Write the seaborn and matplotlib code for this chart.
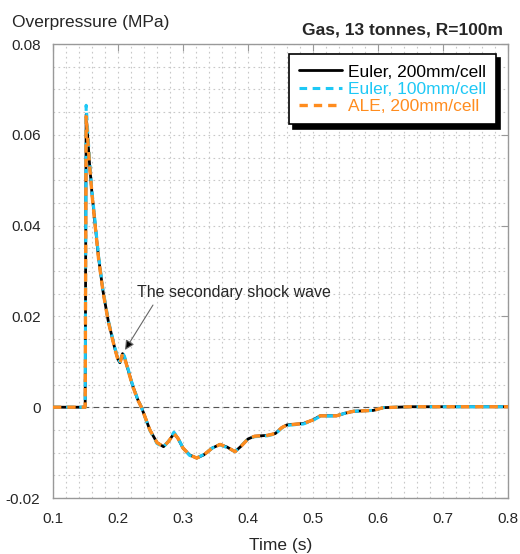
import numpy as np
import pandas as pd
import matplotlib
matplotlib.use("Agg")
import matplotlib.pyplot as plt
from matplotlib.ticker import MultipleLocator, FixedLocator
import seaborn as sns

# ---- data ----
t_euler200 = [0.100, 0.1495, 0.151, 0.156, 0.160, 0.165, 0.170, 0.177, 0.185, 0.195, 0.200, 0.203,
              0.207, 0.210, 0.215, 0.222, 0.230, 0.236, 0.249, 0.260, 0.270, 0.278, 0.286, 0.292,
              0.300, 0.310, 0.321, 0.332, 0.345, 0.357, 0.368, 0.380, 0.390, 0.400, 0.410, 0.430,
              0.442, 0.452, 0.460, 0.485, 0.500, 0.511, 0.536, 0.550, 0.562, 0.593, 0.608, 0.650,
              0.700, 0.800]
v_euler200 = [0.0, 0.0, 0.0645, 0.054, 0.047, 0.040, 0.033, 0.0255, 0.019, 0.013, 0.0105, 0.0098,
              0.0118, 0.0110, 0.0085, 0.0050, 0.0018, 0.0, -0.0050, -0.0078, -0.0087, -0.0075, -0.0058, -0.0068,
              -0.0090, -0.0105, -0.0112, -0.0105, -0.0090, -0.0082, -0.0088, -0.0098, -0.0085, -0.0070, -0.0064, -0.0062,
              -0.0058, -0.0045, -0.0039, -0.0036, -0.0028, -0.0019, -0.0019, -0.0013, -0.0009, -0.0007, -0.0001, 0.0001,
              0.0001, 0.0001]

t_euler100 = [0.100, 0.1495, 0.151, 0.156, 0.160, 0.165, 0.170, 0.177, 0.185, 0.195, 0.200, 0.203,
              0.207, 0.210, 0.215, 0.222, 0.230, 0.236, 0.249, 0.260, 0.270, 0.278, 0.286, 0.292,
              0.300, 0.310, 0.321, 0.332, 0.345, 0.357, 0.368, 0.380, 0.390, 0.400, 0.410, 0.430,
              0.442, 0.452, 0.460, 0.485, 0.500, 0.511, 0.536, 0.550, 0.562, 0.593, 0.608, 0.650,
              0.700, 0.800]
v_euler100 = [0.0, 0.0, 0.0665, 0.0548, 0.0475, 0.0405, 0.0335, 0.0258, 0.0192, 0.0132, 0.0107, 0.0100,
              0.0120, 0.0112, 0.0087, 0.0051, 0.0019, 0.0, -0.0051, -0.0080, -0.0088, -0.0074, -0.0055, -0.0067,
              -0.0090, -0.0106, -0.0112, -0.0104, -0.0090, -0.0083, -0.0089, -0.0098, -0.0084, -0.0070, -0.0065, -0.0063,
              -0.0059, -0.0046, -0.0040, -0.0037, -0.0029, -0.0020, -0.0019, -0.0013, -0.0009, -0.0007, -0.0001, 0.0001,
              0.0001, 0.0001]

t_ale200 = [0.100, 0.1495, 0.151, 0.156, 0.160, 0.165, 0.170, 0.177, 0.185, 0.195, 0.200, 0.203,
            0.207, 0.210, 0.215, 0.222, 0.230, 0.236, 0.249, 0.260, 0.270, 0.278, 0.286, 0.292,
            0.300, 0.310, 0.321, 0.332, 0.345, 0.357, 0.368, 0.380, 0.390, 0.400, 0.410, 0.430,
            0.442, 0.452, 0.460, 0.485, 0.500, 0.511, 0.536, 0.550, 0.562, 0.593, 0.608, 0.650,
            0.700, 0.800]
v_ale200 = [0.0, 0.0, 0.0640, 0.0538, 0.0468, 0.0398, 0.0328, 0.0254, 0.0189, 0.0129, 0.0104, 0.0097,
            0.0117, 0.0109, 0.0084, 0.0049, 0.0017, 0.0, -0.0050, -0.0078, -0.0087, -0.0075, -0.0058, -0.0068,
            -0.0090, -0.0105, -0.0112, -0.0105, -0.0090, -0.0082, -0.0088, -0.0098, -0.0085, -0.0070, -0.0064, -0.0062,
            -0.0058, -0.0045, -0.0039, -0.0036, -0.0028, -0.0019, -0.0019, -0.0013, -0.0009, -0.0007, -0.0001, 0.0001,
            0.0001, 0.0001]

series_names = ["Euler, 200mm/cell", "Euler, 100mm/cell", "ALE, 200mm/cell"]
x_ticks = [0.1, 0.2, 0.3, 0.4, 0.5, 0.6, 0.7, 0.8]
y_ticks = [-0.02, 0.0, 0.02, 0.04, 0.06, 0.08]
y_tick_labels = ["-0.02", "0", "0.02", "0.04", "0.06", "0.08"]

# ---- build table ----
frames = []
for name, t, v in zip(series_names, [t_euler200, t_euler100, t_ale200],
                      [v_euler200, v_euler100, v_ale200]):
    frames.append(pd.DataFrame({"Time": t, "Overpressure": v, "Series": name}))
df = pd.concat(frames, ignore_index=True)

sns.set_style("white")
plt.rcParams['font.family'] = ['Liberation Sans', 'DejaVu Sans']

fig = plt.figure(figsize=(5.2, 5.54), dpi=100)
ax = fig.add_axes([53/520, 1 - 498/554, (508-53)/520, (498-44)/554])

colors = {"Euler, 200mm/cell": "#000000",
          "Euler, 100mm/cell": "#1EC8F5",
          "ALE, 200mm/cell": "#FF8C1E"}
styles = {"Euler, 200mm/cell": dict(lw=2.0, ls="-"),
          "Euler, 100mm/cell": dict(lw=2.2, ls=(0, (2.5, 1.8))),
          "ALE, 200mm/cell": dict(lw=2.4, ls=(0, (2.5, 1.8)))}

for i, name in enumerate(series_names):
    sub = df[df["Series"] == name]
    sns.lineplot(data=sub, x="Time", y="Overpressure", ax=ax, color=colors[name],
                 label=name, zorder=3 + i, estimator=None, sort=False, **styles[name])

ax.axhline(0, color="#555555", lw=0.8, ls=(0, (5, 4)), zorder=2)

ax.set_xlim(0.1, 0.8)
ax.set_ylim(-0.02, 0.08)
ax.xaxis.set_major_locator(FixedLocator(x_ticks))
ax.yaxis.set_major_locator(FixedLocator(y_ticks))
ax.set_yticklabels(y_tick_labels)
ax.set_xticklabels([f"{x:.1f}" for x in x_ticks])
ax.xaxis.set_minor_locator(MultipleLocator(0.02))
ax.yaxis.set_minor_locator(MultipleLocator(0.005))
ax.grid(which="both", color="#C8C8C8", ls=(0, (1.5, 3)), lw=0.8)
ax.tick_params(which="major", direction="in", length=5, color="#999999",
               top=True, right=True, labelsize=11)
ax.tick_params(axis="x", which="major", pad=10)
ax.tick_params(axis="y", which="major", pad=9)
ax.tick_params(which="minor", length=0)
for s in ax.spines.values():
    s.set_color("#999999")
    s.set_linewidth(1.0)

ax.set_xlabel("Time (s)", fontsize=12.5, labelpad=9)
ax.set_ylabel("")
fig.text(12/520, 1 - 23/554, "Overpressure (MPa)", fontsize=12.5, va="center", ha="left")
fig.text(503/520, 1 - 30/554, "Gas, 13 tonnes, R=100m", fontsize=12.5, fontweight="bold",
         va="center", ha="right")

ax.text(0.229, 0.0253, "The secondary shock wave", fontsize=11.5, ha="left", va="center", zorder=10)
ax.annotate("", xy=(0.2108, 0.0126), xytext=(0.2538, 0.0225),
            arrowprops=dict(arrowstyle="-|>", lw=0.8, fc="black", ec="#666666",
                            shrinkA=0, shrinkB=0, mutation_scale=14),
            zorder=10)
leg = ax.legend(loc="upper right", bbox_to_anchor=(0.974, 0.978), fontsize=12.5,
                frameon=True, fancybox=False, shadow={"color": "black", "alpha": 1, "ox": 3, "oy": -3},
                handlelength=2.5, handletextpad=0.3, borderpad=0.6, labelspacing=0.12,
                borderaxespad=0.0)
leg.get_frame().set_edgecolor("black")
leg.get_frame().set_linewidth(1.2)
for txt, name in zip(leg.get_texts(), series_names):
    txt.set_color(colors[name])

fig.savefig("out.png", dpi=100)
